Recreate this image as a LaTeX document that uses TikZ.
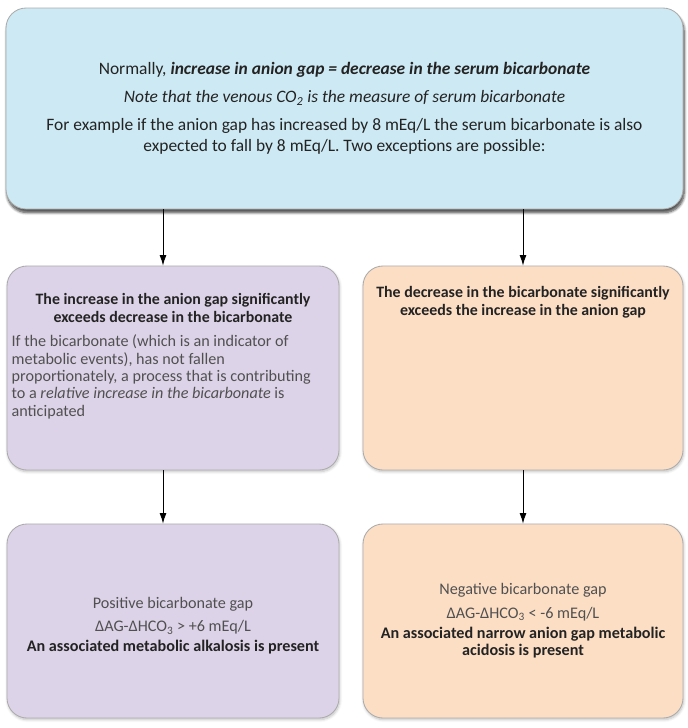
\documentclass[tikz,border=0pt]{standalone}
\usepackage{fontspec}
\setmainfont{Carlito}
\usetikzlibrary{positioning,arrows.meta,shadows.blur}

\definecolor{topblue}{RGB}{205,233,243}
\definecolor{lilac}{RGB}{221,211,232}
\definecolor{peach}{RGB}{252,222,197}
\definecolor{inkdark}{RGB}{35,35,35}
\definecolor{inkgray}{RGB}{80,80,80}

\tikzset{
	box/.style={draw=gray!65, line width=0.6pt, rounded corners=0.5cm, inner sep=0pt,
		blur shadow={shadow xshift=0.5pt, shadow yshift=-1.2pt, shadow blur steps=6, shadow opacity=25}},
	headtxt/.style={font=\fontsize{11.3}{12.7}\selectfont\bfseries, text=inkdark, align=center, inner sep=0pt},
	bodytxt/.style={font=\fontsize{11.5}{12.4}\selectfont, text=inkgray, align=left, inner sep=0pt},
	arr/.style={-{Latex[length=2.6mm,width=1.7mm]}, line width=0.6pt},
}

\begin{document}
\begin{tikzpicture}
		% Set the size of the page
		\def\xmax{17.2}
		\def\ymin{-18.2}
		\useasboundingbox (0,0) rectangle (\xmax,\ymin);
		
		% Top box
		\node[box, fill=topblue, minimum width=16.925cm, minimum height=5.025cm,
			blur shadow={shadow xshift=0.8pt, shadow yshift=-2.5pt, shadow opacity=45},
			font=\fontsize{12.4}{15}\selectfont, text=inkdark, align=center] (top) at (8.6125,-2.7125)
			{Normally, \textbf{\textit{increase in anion gap = decrease in the serum bicarbonate}}\\[5pt]
			\textit{Note that the venous CO\textsubscript{2} is the measure of serum bicarbonate}\\[5pt]
			For example if the anion gap has increased by 8 mEq/L the serum bicarbonate is also\\
			expected to fall by 8 mEq/L. Two exceptions are possible:};
		
		% Middle boxes
		\node[box, fill=lilac, minimum width=8.3cm, minimum height=5.1cm] (lmid) at (4.325,-9.2) {};
		\node[box, fill=peach, minimum width=8cm, minimum height=5.1cm] (rmid) at (13.075,-9.2) {};
		
		\node[headtxt, anchor=north] (lhead) at ([yshift=-0.68cm]lmid.north)
			{The increase in the anion gap significantly\\exceeds decrease in the bicarbonate};
		\node[bodytxt, anchor=north west] (lbody) at ([xshift=0.12cm,yshift=-0.3cm]lhead.south -| lmid.west)
			{If the bicarbonate (which is an indicator of\\
			metabolic events), has not fallen\\
			proportionately, a process that is contributing\\
			to a \textit{relative increase in the bicarbonate} is\\
			anticipated};
		\node[headtxt, anchor=north] (rhead) at ([yshift=-0.52cm]rmid.north)
			{The decrease in the bicarbonate significantly\\exceeds the increase in the anion gap};
		
		% Bottom boxes
		\node[box, fill=lilac, minimum width=8.3cm, minimum height=4.85cm,
			font=\fontsize{11.5}{12.4}\selectfont, align=center] (lbot) at (4.325,-15.525)
			{\rule{0pt}{15pt}\textcolor{inkgray}{Positive bicarbonate gap}\\[4pt]
			\textcolor{inkgray}{ΔAG-ΔHCO\textsubscript{3} > +6 mEq/L}\\[2pt]
			\textcolor{inkdark}{\bfseries An associated metabolic alkalosis is present}};
		\node[box, fill=peach, minimum width=8cm, minimum height=4.85cm,
			font=\fontsize{11.5}{12.4}\selectfont, align=center] (rbot) at (13.075,-15.525)
			{\textcolor{inkgray}{Negative bicarbonate gap}\\[4pt]
			\textcolor{inkgray}{ΔAG-ΔHCO\textsubscript{3} < -6 mEq/L}\\[2pt]
			\textcolor{inkdark}{\bfseries An associated narrow anion gap metabolic}\\
			\textcolor{inkdark}{\bfseries acidosis is present}};
		
		% Arrows between the boxes
		\draw[arr] ([xshift=-0.25cm]lmid.north |- top.south) -- ([xshift=-0.25cm]lmid.north);
		\draw[arr] (rmid.north |- top.south) -- (rmid.north);
		\draw[arr] ([xshift=-0.25cm]lmid.south) -- ([xshift=-0.25cm]lbot.north);
		\draw[arr] (rmid.south) -- (rbot.north);
	\end{tikzpicture}
\end{document}
